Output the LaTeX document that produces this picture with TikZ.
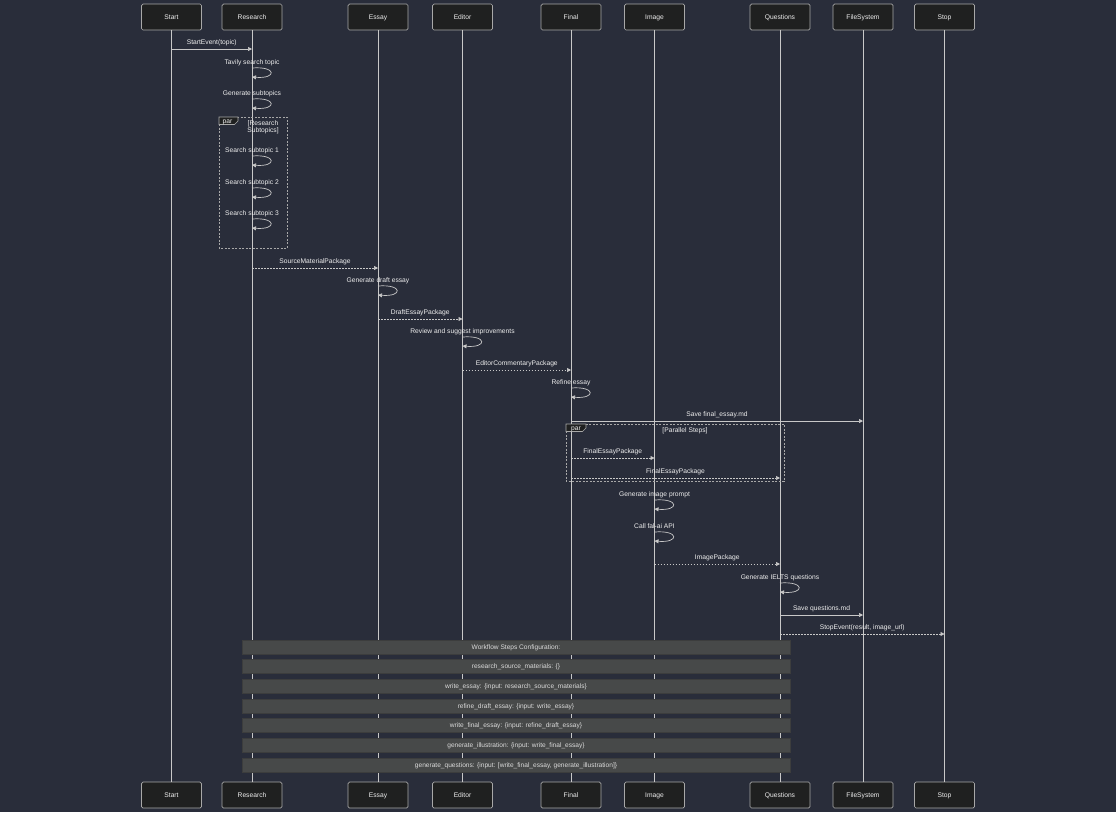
\documentclass[tikz,border=0pt]{standalone}
\usepackage{fontspec}
\setmainfont{Liberation Sans}
\usetikzlibrary{arrows.meta}
\definecolor{bg}{HTML}{292D3A}
\definecolor{actorfill}{HTML}{1F2020}
\definecolor{actorline}{HTML}{A8A8A8}
\definecolor{lifecol}{HTML}{C8C8C8}
\definecolor{txtcol}{HTML}{EEEEEE}
\definecolor{notefill}{HTML}{474949}
\definecolor{noteline}{HTML}{3C3D3D}
\definecolor{notetxt}{HTML}{DADADA}
\newcommand\selfmsg[4]{%
  \pgfmathsetmacro\yl{#2+1}\pgfmathsetmacro\ya{#2+7}\pgfmathsetmacro\yb{#2+16}%
  \node[lbl] (#4) at (#1-top |- 0,\yl) {#3};
  \draw[msg] (#1-top |- 0,\ya) .. controls +(25,-2) and +(25,2) .. (#1-top |- 0,\yb);}
\begin{document}
\begin{tikzpicture}[x=1pt,y=-1pt,
  actor/.style={draw=actorline, fill=actorfill, line width=0.7pt, rounded corners=1.5pt,
    minimum width=60pt, minimum height=26pt, inner sep=0pt, text=txtcol,
    text height=4.7pt, text depth=0pt,
    font=\fontsize{6.7}{7.5}\selectfont},
  life/.style={draw=lifecol, line width=0.7pt},
  msg/.style={draw=lifecol, line width=0.7pt, -{Triangle[length=4pt,width=4pt]}},
  dmsg/.style={msg, dash pattern=on 1.5pt off 1.5pt},
  lbl/.style={text=txtcol, inner sep=0pt, text height=4.7pt, text depth=0pt,
    font=\fontsize{6.7}{7.5}\selectfont},
  mlbl/.style={lbl, midway, above=4.3pt},
  frame/.style={draw=actorline, line width=0.6pt, dash pattern=on 2pt off 1.5pt},
  tab/.style={draw=actorline, fill=actorfill, line width=0.6pt},
  note/.style={fill=notefill, draw=noteline, line width=0.6pt, minimum width=548pt,
    minimum height=14pt, inner sep=0pt, text=notetxt, text height=4.5pt, text depth=0pt,
    font=\fontsize{6.6}{7}\selectfont}]
\fill[bg] (0,0) rectangle (1116,812);
\useasboundingbox (0,0) rectangle (1116,812);

% actors and lifelines
\foreach \n/\t/\x in {S/Start/171.5, R/Research/252, E/Essay/378, Ed/Editor/462.5,
  F/Final/571, I/Image/654.5, Q/Questions/780, FS/FileSystem/863, St/Stop/944.5}{
  \node[actor] (\n-top) at (\x,17) {\t};
  \node[actor] (\n-bot) at (\x,795) {\t};
  \draw[life] (\n-top) -- (\n-bot);
}

% par frame 1
\draw[frame] (219,117) rectangle (287,248);
\draw[tab] (219,117) -- (238,117) -- (238,121) -- (234.5,124.5) -- (219,124.5) -- cycle;
\node[lbl] (par1) at (227.5,121.5) {par};
\node[lbl] (par1a) at (263,123) {[Research};
\node[lbl] (par1b) at (263,130) {Subtopics]};

% par frame 2
\draw[frame] (566,424) rectangle (784,481);
\draw[tab] (566,424) -- (586,424) -- (586,428) -- (582.5,431.5) -- (566,431.5) -- cycle;
\node[lbl] (par2) at (576,428.5) {par};
\node[lbl] (par2a) at (685,430) {[Parallel Steps]};

% messages
\draw[msg] (S-top |- 0,49) -- node[mlbl] {StartEvent(topic)} (R-top |- 0,49);
\selfmsg{R}{61}{Tavily search topic}{m2}
\selfmsg{R}{92}{Generate subtopics}{m3}
\selfmsg{R}{149}{Search subtopic 1}{m4}
\selfmsg{R}{181}{Search subtopic 2}{m5}
\selfmsg{R}{212}{Search subtopic 3}{m6}
\draw[dmsg] (R-top |- 0,268) -- node[mlbl] {SourceMaterialPackage} (E-top |- 0,268);
\selfmsg{E}{279}{Generate draft essay}{m8}
\draw[dmsg] (E-top |- 0,319) -- node[mlbl] {DraftEssayPackage} (Ed-top |- 0,319);
\selfmsg{Ed}{330}{Review and suggest improvements}{m10}
\draw[dmsg] (Ed-top |- 0,370) -- node[mlbl] {EditorCommentaryPackage} (F-top |- 0,370);
\selfmsg{F}{381}{Refine essay}{m12}
\draw[msg] (F-top |- 0,421) -- node[mlbl] {Save final\_essay.md} (FS-top |- 0,421);
\draw[dmsg] (F-top |- 0,458) -- node[mlbl] {FinalEssayPackage} (I-top |- 0,458);
\draw[dmsg] (F-top |- 0,478) -- node[mlbl] {FinalEssayPackage} (Q-top |- 0,478);
\selfmsg{I}{493}{Generate image prompt}{m16}
\selfmsg{I}{525}{Call fal-ai API}{m17}
\draw[dmsg] (I-top |- 0,564) -- node[mlbl] {ImagePackage} (Q-top |- 0,564);
\selfmsg{Q}{576}{Generate IELTS questions}{m19}
\draw[msg] (Q-top |- 0,615) -- node[mlbl] {Save questions.md} (FS-top |- 0,615);
\draw[dmsg] (Q-top |- 0,634) -- node[mlbl] {StopEvent(result, image\_url)} (St-top |- 0,634);

% notes
\node[note] (n1) at (516,647) {Workflow Steps Configuration:};
\node[note] (n2) at (516,666) {research\_source\_materials: \{\}};
\node[note] (n3) at (516,686) {write\_essay: \{input: research\_source\_materials\}};
\node[note] (n4) at (516,706) {refine\_draft\_essay: \{input: write\_essay\}};
\node[note] (n5) at (516,725) {write\_final\_essay: \{input: refine\_draft\_essay\}};
\node[note] (n6) at (516,745) {generate\_illustration: \{input: write\_final\_essay\}};
\node[note] (n7) at (516,765) {generate\_questions: \{input: [write\_final\_essay, generate\_illustration]\}};
\end{tikzpicture}
\end{document}
